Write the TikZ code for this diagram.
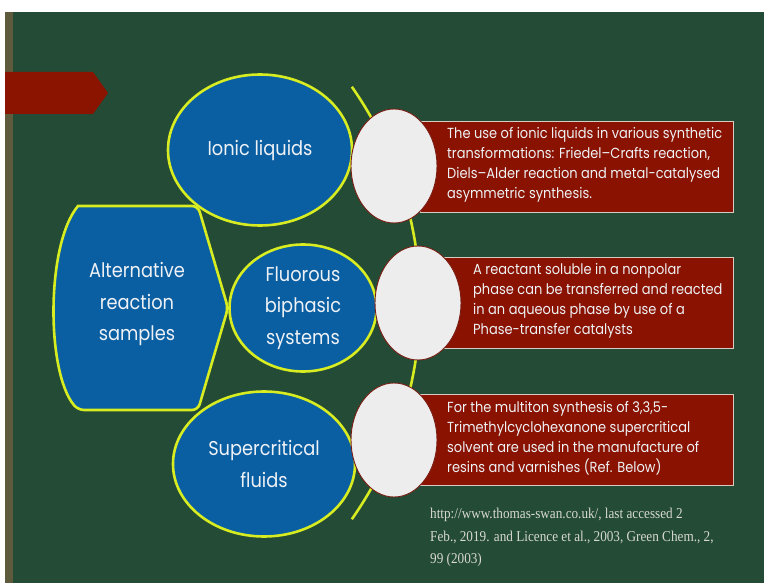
\documentclass[tikz,border=0pt]{standalone}
\usepackage{fontspec}
\setmainfont[FakeStretch=0.89]{Poppins}
\newfontfamily\reffont[FakeStretch=0.88]{Liberation Serif}
\usetikzlibrary{shapes.geometric}
\definecolor{board}{HTML}{234B35}
\definecolor{strip}{HTML}{5E5A3C}
\definecolor{banner}{HTML}{8A1400}
\definecolor{topicblue}{HTML}{0A5EA2}
\definecolor{rim}{HTML}{D8EC22}
\definecolor{bubble}{HTML}{EDEDED}
\definecolor{bubbleedge}{HTML}{7A1E14}
\definecolor{notered}{HTML}{8A1200}
\definecolor{noteedge}{HTML}{D6CCC4}
\definecolor{paletext}{HTML}{EEF2F6}
\definecolor{reftext}{HTML}{D8D8D2}
\tikzset{
  topic/.style={ellipse, fill=topicblue, draw=rim, line width=2.6pt, inner sep=0pt,
    text=paletext, align=center, font=\fontsize{20}{31.5}\selectfont},
  bubblenode/.style={ellipse, fill=bubble, draw=bubbleedge, line width=0.9pt, inner sep=0pt,
    minimum width=86pt, minimum height=114pt},
  notebox/.style={rectangle, fill=notered, draw=noteedge, line width=0.8pt, inner sep=0pt, anchor=north west},
  notetext/.style={anchor=north west, inner sep=0pt, align=left, text=paletext,
    font=\fontsize{14.6}{20}\selectfont}
}
\begin{document}
\begin{tikzpicture}[x=1pt,y=-1pt]
\useasboundingbox (0,0) rectangle (764,583);
% slide background
\fill[white] (0,0) rectangle (764,583);
\fill[board] (13,12) rectangle (764,583);
\fill[strip] (5,12) rectangle (13,583);
\fill[banner] (5,72) -- (93,72) -- (108,93) -- (93,114) -- (5,114) -- cycle;

% sweeping yellow arc behind the bubbles
\coordinate (arcc) at (43,303);
\draw[rim, line width=2.6pt] (arcc) ++(-35:377pt) arc[start angle=-35, end angle=35, radius=377pt];

% main chevron-like block
\draw[fill=topicblue, draw=rim, line width=2.6pt, rounded corners=6pt]
  (78,206) -- (198,206) -- (228,308) -- (198,410) -- (78,410)
  [rounded corners=0pt] .. controls (46,372) and (46,244) .. (78,206) -- cycle;
\node[text=paletext, align=center, font=\fontsize{20}{31.5}\selectfont] (main) at (137,304)
  {Alternative\\reaction\\samples};

% three topics
\node[topic, minimum width=184pt, minimum height=151pt] (ionic) at (260,150) {Ionic liquids};
\node[topic, minimum width=147pt, minimum height=127pt] (fluor) at (303,308) {Fluorous\\biphasic\\systems};
\node[topic, minimum width=182pt, minimum height=145pt] (scf) at (264,464) {Supercritical\\fluids};

% note boxes
\node[notebox, minimum width=313pt, minimum height=91pt] (box1) at (420,121) {};
\node[notebox, minimum width=300pt, minimum height=91pt] (box2) at (433,257) {};
\node[notebox, minimum width=313pt, minimum height=91pt] (box3) at (420,394) {};

% bubbles
\node[bubblenode] (b1) at (394,166) {};
\node[bubblenode] (b2) at (418,303) {};
\node[bubblenode] (b3) at (394,440) {};

% note texts
\node[notetext] (t1) at (447,127) {The use of ionic liquids in various synthetic\\transformations: Friedel--Crafts reaction,\\Diels--Alder reaction and metal-catalysed\\asymmetric synthesis.};
\node[notetext] (t2) at (473,263) {A reactant soluble in a nonpolar\\phase can be transferred and reacted\\in an aqueous phase by use of a\\Phase-transfer catalysts};
\node[notetext] (t3) at (447,401) {For the multiton synthesis of 3,3,5-\\Trimethylcyclohexanone supercritical\\solvent are used in the manufacture of\\resins and varnishes (Ref. Below)};

% reference
\node[anchor=north west, inner sep=0pt, align=left, text=reftext,
  font=\reffont\fontsize{15}{22.5}\selectfont] (ref) at (430,508)
  {http://www.thomas-swan.co.uk/, last accessed 2\\Feb., 2019. and Licence et al., 2003, Green Chem., 2,\\99 (2003)};
\end{tikzpicture}
\end{document}
